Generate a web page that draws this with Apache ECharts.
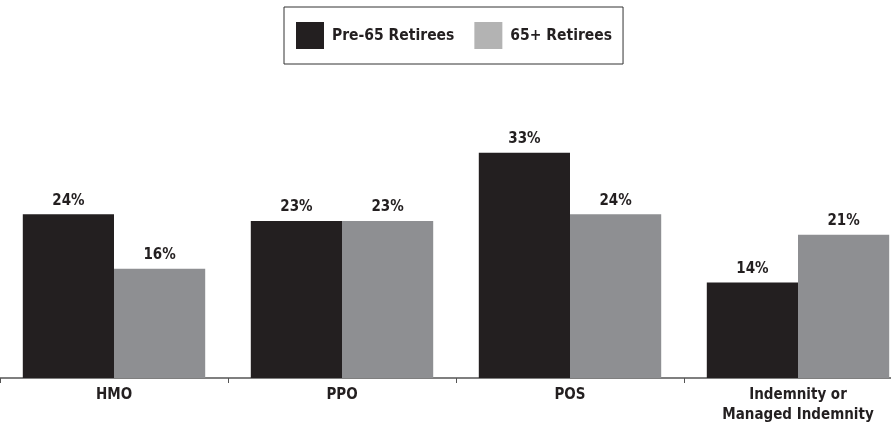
<!DOCTYPE html>
<html><head><meta charset="utf-8">
<script src="https://cdn.jsdelivr.net/npm/echarts@6/dist/echarts.min.js"></script>
<style>html,body{margin:0;padding:0;background:#fff}#c{width:891px;height:429px}</style>
</head><body><div id="c"></div>
<script>
const categories = ['HMO', 'PPO', 'POS', 'Indemnity or\nManaged Indemnity'];
const pre65 = [24, 23, 33, 14];
const plus65 = [16, 23, 24, 21];
const seriesNames = ['Pre-65 Retirees', '65+ Retirees'];

const FONT = '"Liberation Sans Narrow", "Arial Narrow", "DejaVu Sans Condensed", sans-serif';
const DARK = '#231f20', GREY = '#8e8f92', LEGEND_GREY = '#b3b3b3';

const chart = echarts.init(document.getElementById('c'));
const labelCfg = {show: true, position: 'top', distance: 6, formatter: '{c}%', color: '#231f20', fontFamily: FONT, fontWeight: 'bold', fontSize: 15};
chart.setOption({
  animation: false,
  legend: {
    data: [{name: seriesNames[0], itemStyle: {color: DARK}}, {name: seriesNames[1], itemStyle: {color: LEGEND_GREY}}],
    top: 7, left: 284,
    padding: [15, 11, 15, 12],
    borderColor: '#333', borderWidth: 1,
    itemWidth: 28, itemHeight: 27, itemGap: 20,
    icon: 'rect',
    textStyle: {fontFamily: FONT, fontWeight: 'bold', fontSize: 15.5, color: '#231f20', padding: [0, 0, 0, 3]}
  },
  grid: {left: 0, right: -21, top: 105, bottom: 51, containLabel: false, outerBoundsMode: 'none'},
  xAxis: {
    type: 'category', data: categories,
    axisLine: {lineStyle: {color: '#555', width: 1.5}},
    axisTick: {show: true, lineStyle: {color: '#555'}, length: 5},
    axisLabel: {fontFamily: FONT, fontWeight: 'bold', fontSize: 15, color: '#231f20', margin: 7, lineHeight: 20}
  },
  yAxis: {type: 'value', min: 0, max: 40, show: false, splitLine: {show: false}},
  series: [
    {name: seriesNames[0], type: 'bar', data: pre65, itemStyle: {color: DARK}, barGap: '0%', barCategoryGap: '20%', label: labelCfg},
    {name: seriesNames[1], type: 'bar', data: plus65, itemStyle: {color: GREY}, barGap: '0%', barCategoryGap: '20%', label: labelCfg}
  ]
});
</script></body></html>
